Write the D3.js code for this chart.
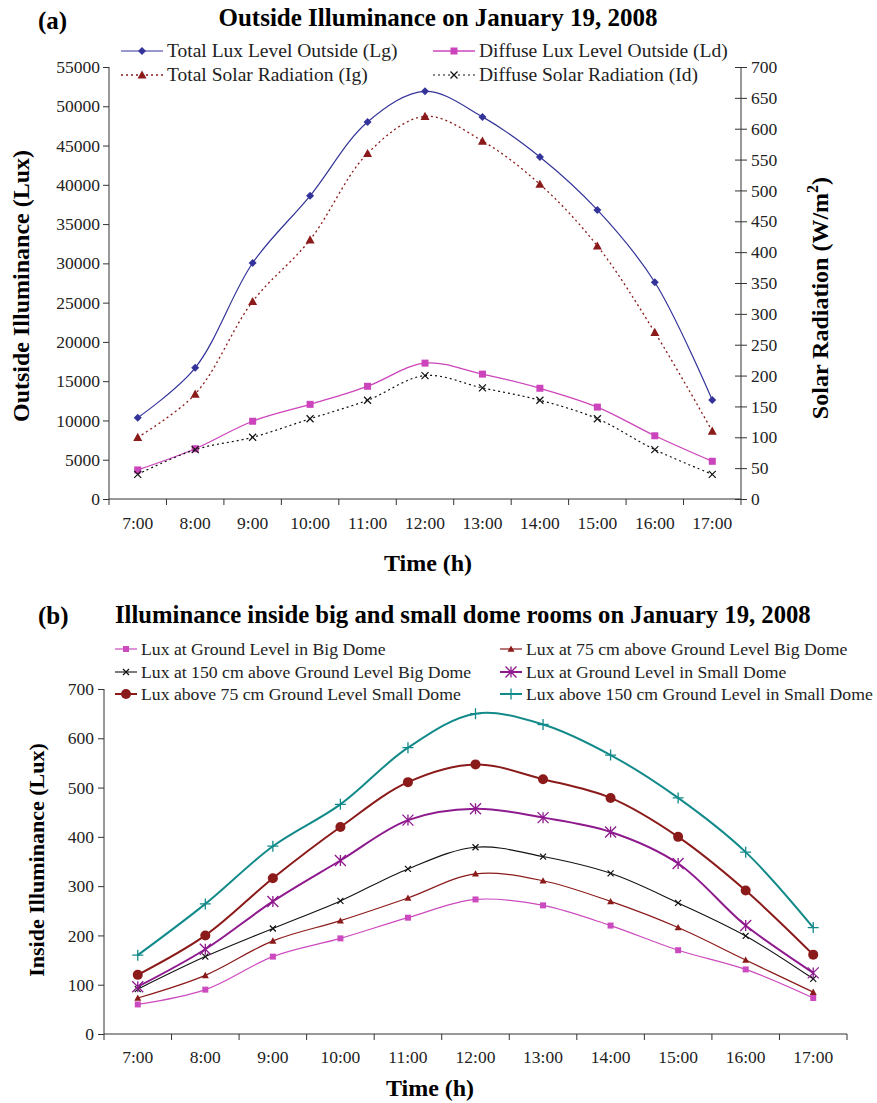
<!DOCTYPE html>
<html>
<head>
<meta charset="utf-8">
<script src="https://cdn.jsdelivr.net/npm/d3@7"></script>
<style>
  body { margin: 0; background: #fff; }
  svg { font-family: "Liberation Serif", "Times New Roman", serif; }
</style>
</head>
<body>
<svg id="fig" width="877" height="1103"></svg>
<script>
// hours on the x axis (both panels)
const hours = ["7:00","8:00","9:00","10:00","11:00","12:00","13:00","14:00","15:00","16:00","17:00"];

// panel (a) - outside
const luxTotal   = [10350,16700,30050,38600,48000,51900,48650,43550,36800,27600,12600];
const luxDiffuse = [3700,6400,9900,12050,14350,17300,15900,14100,11700,8050,4800];
const radTotal   = [100,170,320,420,560,620,580,510,410,270,110];
const radDiffuse = [40,80,100,130,160,200,180,160,130,80,40];
const luxTicks = [0,5000,10000,15000,20000,25000,30000,35000,40000,45000,50000,55000];
const radTicks = [0,50,100,150,200,250,300,350,400,450,500,550,600,650,700];

// panel (b) - inside domes
const groundBig   = [60,90,157,194,236,273,261,220,170,131,73];
const cm75Big     = [73,119,189,230,276,325,311,269,216,150,85];
const cm150Big    = [91,157,214,270,335,379,360,326,266,199,112];
const groundSmall = [96,172,269,352,434,457,439,410,346,220,124];
const cm75Small   = [120,200,316,420,511,547,517,479,400,291,161];
const cm150Small  = [160,264,381,466,581,650,628,566,479,369,216];
const insideTicks = [0,100,200,300,400,500,600,700];

const svg = d3.select("#fig");
const serif = "Liberation Serif, Times New Roman, serif";

// marker shapes, centred on 0,0
function marker(g, type, size, color) {
  let s = size / 2;
  if (type == "diamond") {
    g.append("path").attr("d", `M0,${-s}L${s},0L0,${s}L${-s},0Z`).attr("fill", color);
  } else if (type == "square") {
    g.append("rect").attr("x", -s).attr("y", -s).attr("width", size).attr("height", size).attr("fill", color);
  } else if (type == "triangle") {
    g.append("path").attr("d", `M0,${-s}L${s},${s * 0.8}L${-s},${s * 0.8}Z`).attr("fill", color);
  } else if (type == "circle") {
    g.append("circle").attr("r", s).attr("fill", color);
  } else if (type == "x") {
    g.append("path").attr("d", `M${-s},${-s}L${s},${s}M${-s},${s}L${s},${-s}`).attr("stroke", color).attr("stroke-width", 1.2);
  } else if (type == "plus") {
    g.append("path").attr("d", `M${-s},0L${s},0M0,${-s}L0,${s}`).attr("stroke", color).attr("stroke-width", 1.3);
  } else if (type == "star") {
    g.append("path").attr("d", `M${-s},${-s}L${s},${s}M${-s},${s}L${s},${-s}M0,${-s}L0,${s}`).attr("stroke", color).attr("stroke-width", 1.3);
  }
}

function drawSeries(values, x, y, opt) {
  const line = d3.line()
    .x((d, i) => x(hours[i]) + x.bandwidth() / 2)
    .y(d => y(d))
    .curve(d3.curveCatmullRom.alpha(0.5));
  svg.append("path")
    .attr("d", line(values))
    .attr("fill", "none")
    .attr("stroke", opt.color)
    .attr("stroke-width", opt.width)
    .attr("stroke-dasharray", opt.dash || null);
  values.forEach((v, i) => {
    const g = svg.append("g").attr("transform", `translate(${x(hours[i]) + x.bandwidth() / 2},${y(v)})`);
    marker(g, opt.marker, opt.size, opt.color);
  });
}

function legendItem(px, py, sampleW, opt, label, fontSize) {
  svg.append("line")
    .attr("x1", px).attr("x2", px + sampleW).attr("y1", py).attr("y2", py)
    .attr("stroke", opt.color).attr("stroke-width", opt.width)
    .attr("stroke-dasharray", opt.dash || null);
  marker(svg.append("g").attr("transform", `translate(${px + sampleW / 2},${py})`), opt.marker, opt.size, opt.color);
  svg.append("text").attr("x", px + sampleW + 4).attr("y", py + fontSize * 0.33)
    .attr("font-size", fontSize).attr("fill", "#222").text(label);
}

// common look for the axes
function styleAxis(g) {
  g.attr("font-family", serif).attr("font-size", 17.5);
  g.selectAll("path, line").attr("stroke", "#333");
  g.selectAll("text").attr("fill", "#222");
}

// ---------------- panel (a) ----------------
const xa = d3.scaleBand().domain(hours).range([109, 741]);
const ya = d3.scaleLinear().domain([0, 55000]).range([499, 67]);
const yr = d3.scaleLinear().domain([0, 700]).range([499, 67]);

svg.append("text").attr("x", 38).attr("y", 29).attr("font-size", 25).attr("font-weight", "bold").text("(a)");
svg.append("text").attr("x", 438).attr("y", 26).attr("text-anchor", "middle")
  .attr("font-size", 25).attr("font-weight", "bold").text("Outside Illuminance on January 19, 2008");

svg.append("g").attr("transform", "translate(109,0)")
  .call(d3.axisLeft(ya).tickValues(luxTicks).tickSize(6).tickPadding(3).tickFormat(d3.format("d")))
  .call(g => g.select(".domain").attr("d", "M0,499V67"))
  .call(styleAxis);

svg.append("g").attr("transform", "translate(741,0)")
  .call(d3.axisRight(yr).tickValues(radTicks).tickSize(6).tickPadding(4))
  .call(g => g.select(".domain").attr("d", "M0,499V67"))
  .call(g => g.selectAll(".tick line").attr("x1", -6))
  .call(styleAxis);

const xAxisA = svg.append("g").attr("transform", "translate(0,499)")
  .call(d3.axisBottom(xa).tickSize(0).tickPadding(18))
  .call(g => g.select(".domain").attr("d", "M109,0H741"));
xAxisA.selectAll(".tick line").remove();
hours.concat(["end"]).forEach((h, i) => {
  const px = 109 + i * xa.step();
  xAxisA.append("line").attr("x1", px).attr("x2", px).attr("y1", 0).attr("y2", 6);
});
xAxisA.call(styleAxis);

svg.append("text").attr("transform", "translate(29,286) rotate(-90)").attr("text-anchor", "middle")
  .attr("font-size", 24).attr("font-weight", "bold").text("Outside Illuminance (Lux)");
const rl = svg.append("text").attr("transform", "translate(828,298) rotate(-90)").attr("text-anchor", "middle")
  .attr("font-size", 24).attr("font-weight", "bold");
rl.append("tspan").text("Solar Radiation (W/m");
rl.append("tspan").attr("font-size", 16).attr("dy", -10).text("2");
rl.append("tspan").attr("dy", 10).text(")");
svg.append("text").attr("x", 428).attr("y", 571).attr("text-anchor", "middle")
  .attr("font-size", 24).attr("font-weight", "bold").text("Time (h)");

const optLg = { color: "#333399", width: 1.2, marker: "diamond", size: 8 };
const optLd = { color: "#cc44bb", width: 1.3, marker: "square", size: 7 };
const optIg = { color: "#8b1a1a", width: 1.3, marker: "triangle", size: 9, dash: "2,3" };
const optId = { color: "#111", width: 1.2, marker: "x", size: 7, dash: "2,3" };

drawSeries(luxDiffuse, xa, ya, optLd);
drawSeries(radDiffuse, xa, yr, optId);
drawSeries(radTotal, xa, yr, optIg);
drawSeries(luxTotal, xa, ya, optLg);

legendItem(121, 51, 42, optLg, "Total Lux Level Outside (Lg)", 19.5);
legendItem(433, 51, 42, optLd, "Diffuse Lux Level Outside (Ld)", 19.5);
legendItem(121, 75, 42, optIg, "Total Solar Radiation (Ig)", 19.5);
legendItem(433, 75, 42, optId, "Diffuse Solar Radiation (Id)", 19.5);

// ---------------- panel (b) ----------------
const xb = d3.scaleBand().domain(hours).range([104, 847]);
const yb = d3.scaleLinear().domain([0, 700]).range([1034, 689]);

svg.append("text").attr("x", 38).attr("y", 624).attr("font-size", 25).attr("font-weight", "bold").text("(b)");
svg.append("text").attr("x", 115).attr("y", 623)
  .attr("font-size", 24.7).attr("font-weight", "bold").text("Illuminance inside big and small dome rooms on January 19, 2008");

svg.append("g").attr("transform", "translate(104,0)")
  .call(d3.axisLeft(yb).tickValues(insideTicks).tickSize(6).tickPadding(4))
  .call(g => g.select(".domain").attr("d", "M0,1034V689"))
  .call(styleAxis);

const xAxisB = svg.append("g").attr("transform", "translate(0,1034)")
  .call(d3.axisBottom(xb).tickSize(0).tickPadding(17))
  .call(g => g.select(".domain").attr("d", "M104,0H847"));
xAxisB.selectAll(".tick line").remove();
hours.concat(["end"]).forEach((h, i) => {
  const px = 104 + i * xb.step();
  xAxisB.append("line").attr("x1", px).attr("x2", px).attr("y1", 0).attr("y2", 6);
});
xAxisB.call(styleAxis);

svg.append("text").attr("transform", "translate(44,860) rotate(-90)").attr("text-anchor", "middle")
  .attr("font-size", 22).attr("font-weight", "bold").text("Inside Illuminance (Lux)");
svg.append("text").attr("x", 430).attr("y", 1096).attr("text-anchor", "middle")
  .attr("font-size", 24).attr("font-weight", "bold").text("Time (h)");

const optGB = { color: "#cc4abf", width: 1.2, marker: "square", size: 6 };
const optMB = { color: "#8b1a1a", width: 1.2, marker: "triangle", size: 7 };
const optHB = { color: "#111", width: 1.1, marker: "x", size: 6 };
const optGS = { color: "#8e1a8e", width: 2, marker: "star", size: 11 };
const optMS = { color: "#8b1a1a", width: 2, marker: "circle", size: 10 };
const optHS = { color: "#138a8a", width: 2, marker: "plus", size: 11 };

drawSeries(groundBig, xb, yb, optGB);
drawSeries(cm75Big, xb, yb, optMB);
drawSeries(cm150Big, xb, yb, optHB);
drawSeries(groundSmall, xb, yb, optGS);
drawSeries(cm75Small, xb, yb, optMS);
drawSeries(cm150Small, xb, yb, optHS);

legendItem(115, 649, 22, optGB, "Lux at Ground Level in Big Dome", 17.7);
legendItem(500, 649, 22, optMB, "Lux at 75 cm above Ground Level Big Dome", 17.7);
legendItem(115, 672, 22, optHB, "Lux at 150 cm above Ground Level Big Dome", 17.7);
legendItem(500, 672, 22, optGS, "Lux at Ground Level in Small Dome", 17.7);
legendItem(115, 694, 22, optMS, "Lux above 75 cm Ground Level Small Dome", 17.7);
legendItem(500, 694, 22, optHS, "Lux above 150 cm Ground Level in Small Dome", 17.7);
</script>
</body>
</html>
